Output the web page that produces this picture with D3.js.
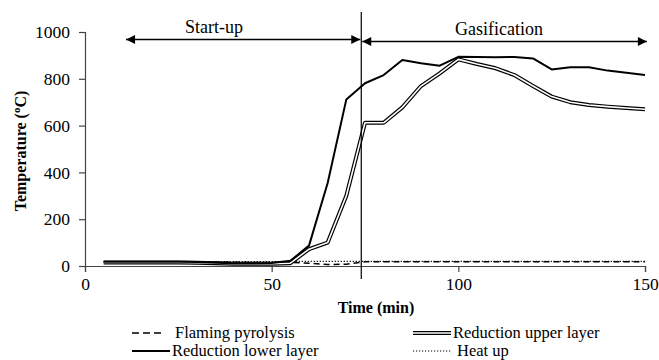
<!DOCTYPE html>
<html>
<head>
<meta charset="utf-8">
<script src="https://cdn.jsdelivr.net/npm/d3@7"></script>
<style>
  body { margin: 0; background: #fff; }
</style>
</head>
<body>
<svg id="chart" width="659" height="360"></svg>
<script>
// data
const times = [5,10,15,20,25,30,35,40,45,50,55,60,65,70,75,80,85,90,95,100,105,110,115,120,125,130,135,140,145,150];
const flaming = [18,18,18,18,18,18,17,16,15,15,16,12,6,8,18,18,18,18,18,18,18,18,18,18,18,18,18,18,18,18];
const lowerLayer = [18,18,18,18,18,17,14,12,12,13,22,87,355,712,781,816,880,866,856,894,893,892,893,887,840,849,849,835,826,816];
const upperLayer = [15,15,15,15,15,14,12,10,10,10,12,72,100,300,612,612,678,769,823,883,863,845,816,769,724,700,688,681,675,670];
const heatUp = [19,19,19,19,19,19,19,19,19,19,19,20,20,20,20,20,20,20,20,20,20,20,20,20,20,20,20,20,20,20];
const xTicks = [0, 50, 100, 150];
const yTicks = [0, 200, 400, 600, 800, 1000];
const phaseSplit = 74;
const startupFrom = 11;

const FONT = "Liberation Serif";

const svg = d3.select("#chart");
const x = d3.scaleLinear().domain([0, 150]).range([85, 645]);
const y = d3.scaleLinear().domain([0, 1000]).range([266, 32]);

// axes
const xAxis = svg.append("g")
  .attr("transform", "translate(0," + y(0) + ")")
  .call(d3.axisBottom(x).tickValues(xTicks).tickSize(6).tickPadding(6).tickFormat(d3.format("d")));
const yAxis = svg.append("g")
  .attr("transform", "translate(" + x(0) + ",0)")
  .call(d3.axisLeft(y).tickValues(yTicks).tickSize(6).tickPadding(9).tickFormat(d3.format("d")));
[xAxis, yAxis].forEach(a => {
  a.attr("font-family", FONT).attr("font-size", 17.5);
  a.select(".domain").attr("stroke", "#444").attr("stroke-width", 1.2);
  a.selectAll(".tick line").attr("stroke", "#444").attr("stroke-width", 1.2);
  a.selectAll(".tick text").attr("fill", "#000").attr("font-family", FONT);
});

const line = d3.line().x((d, i) => x(times[i])).y(d => y(d));

// series
svg.append("path").datum(heatUp).attr("d", line)
  .attr("fill", "none").attr("stroke", "#000").attr("stroke-width", 1.2).attr("stroke-dasharray", "1.2,1.8");
svg.append("path").datum(flaming).attr("d", line)
  .attr("fill", "none").attr("stroke", "#000").attr("stroke-width", 1.5).attr("stroke-dasharray", "6,4");
svg.append("path").datum(upperLayer).attr("d", line)
  .attr("fill", "none").attr("stroke", "#000").attr("stroke-width", 4).attr("stroke-linejoin", "round");
svg.append("path").datum(upperLayer).attr("d", line)
  .attr("fill", "none").attr("stroke", "#fff").attr("stroke-width", 1.6).attr("stroke-linejoin", "round");
svg.append("path").datum(lowerLayer).attr("d", line)
  .attr("fill", "none").attr("stroke", "#000").attr("stroke-width", 2).attr("stroke-linejoin", "round");

// phase divider and arrows
svg.append("line")
  .attr("x1", x(phaseSplit)).attr("x2", x(phaseSplit))
  .attr("y1", 12).attr("y2", 279)
  .attr("stroke", "#000").attr("stroke-width", 1.2);

function arrowHead(px, py, dir) {
  svg.append("path")
    .attr("d", "M" + px + "," + py + "l" + (-dir * 9) + ",-4.5l0,9z")
    .attr("fill", "#000");
}
function doubleArrow(x1, x2, yy) {
  svg.append("line").attr("x1", x1).attr("x2", x2).attr("y1", yy).attr("y2", yy)
    .attr("stroke", "#000").attr("stroke-width", 1.3);
  arrowHead(x1, yy, -1);
  arrowHead(x2, yy, 1);
}
doubleArrow(x(startupFrom), x(phaseSplit) - 1, 39.5);
doubleArrow(x(phaseSplit) + 1, x(150.5), 41.5);

function label(px, py, txt, size, weight) {
  return svg.append("text").attr("x", px).attr("y", py)
    .attr("font-family", FONT).attr("font-size", size)
    .attr("font-weight", weight || "normal").text(txt);
}
label(214, 33, "Start-up", 18).attr("text-anchor", "middle");
label(499, 35, "Gasification", 18).attr("text-anchor", "middle");

// axis titles
label(376, 313, "Time (min)", 16, "bold").attr("text-anchor", "middle");
const yt = svg.append("text")
  .attr("transform", "translate(26,151) rotate(-90)")
  .attr("text-anchor", "middle")
  .attr("font-family", FONT)
  .attr("font-size", 16).attr("font-weight", "bold");
yt.append("tspan").text("Temperature (");
yt.append("tspan").attr("dy", -6).attr("font-size", 11).text("o");
yt.append("tspan").attr("dy", 6).text("C)");

// legend
const legendItems = [
  {label: "Flaming pyrolysis", col: 0, row: 0, type: "dash"},
  {label: "Reduction upper layer", col: 1, row: 0, type: "double"},
  {label: "Reduction lower layer", col: 0, row: 1, type: "solid"},
  {label: "Heat up", col: 1, row: 1, type: "dot"}
];
const legendCols = [132, 413];
const legendRows = [333, 351];
legendItems.forEach(it => {
  const lx = legendCols[it.col], ly = legendRows[it.row];
  const g = svg.append("g");
  const seg = (stroke, w, dash) => g.append("line")
    .attr("x1", lx).attr("x2", lx + 38).attr("y1", ly).attr("y2", ly)
    .attr("stroke", stroke).attr("stroke-width", w).attr("stroke-dasharray", dash || null);
  if (it.type === "dash") seg("#000", 1.5, "7,4").attr("x2", lx + 32);
  if (it.type === "solid") seg("#000", 2);
  if (it.type === "double") { seg("#000", 4); seg("#fff", 1.6); }
  if (it.type === "dot") seg("#000", 1.2, "1.2,1.8");
  const tx = it.type === "dash" ? 175 : it.type === "solid" ? 172 : it.type === "dot" ? 457 : 453;
  label(tx, ly + 5, it.label, 16.5);
});
</script>
</body>
</html>
